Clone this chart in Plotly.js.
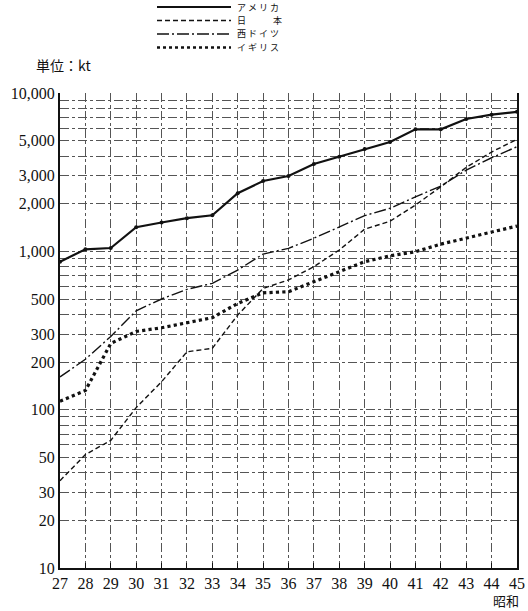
<!DOCTYPE html>
<html>
<head>
<meta charset="utf-8">
<script src="https://cdn.plot.ly/plotly-3.0.1.min.js"></script>
<style>html,body{margin:0;padding:0;background:#fff;}#chart{width:528px;height:611px;}</style>
</head>
<body>
<div id="chart"></div>
<script>
// 昭和 years
var years = [27,28,29,30,31,32,33,34,35,36,37,38,39,40,41,42,43,44,45];
// values in kt
var america = [860,1030,1050,1420,1520,1620,1690,2330,2780,2990,3560,3960,4430,4900,5900,5900,6850,7300,7600];
var japan   = [35.6,52,64,103,150,232,244,396,583,660,800,1020,1380,1550,1960,2560,3390,4240,5100];
var wgermany= [161,208,290,421,500,575,628,762,961,1045,1210,1430,1680,1870,2210,2580,3260,3900,4580];
var britain = [113,132,262,312,329,354,381,469,547,556,643,743,860,937,994,1110,1210,1330,1445];

var seriesNames = ['アメリカ','日本','西ドイツ','イギリス'];
var legendLabels = ['ア メ リ カ','日　　　本','西 ド イ ツ','イ ギ リ ス'];

var yTickVals = [10,20,30,40,50,60,70,80,90,100,200,300,400,500,600,700,800,900,1000,2000,3000,4000,5000,6000,7000,8000,9000,10000];
var yLabelMap = {10:'10',20:'20',30:'30',50:'50',100:'100',200:'200',300:'300',500:'500',1000:'1,000',2000:'2,000',3000:'3,000',5000:'5,000',10000:'10,000'};
var yTickText = yTickVals.map(function(v){ return yLabelMap[v] || ''; });
var xTickText = years.map(String);

var serif = 'Liberation Serif';
var jp = 'Noto Sans CJK JP';

var styles = [
  {color:'#111', width:2.2, dash:'solid'},
  {color:'#111', width:1.4, dash:'5px,3px'},
  {color:'#111', width:1.4, dash:'12px,3px,2px,3px'},
  {color:'#111', width:3.2, dash:'dot'}
];
var dataSets = [america, japan, wgermany, britain];

var traces = dataSets.map(function(d,i){
  var t = {x: years, y: d, type:'scatter', mode: i===0 ? 'lines+markers' : 'lines',
    name: seriesNames[i], line: styles[i], showlegend:false, hoverinfo:'x+y'};
  if (i===0) t.marker = {size:4, color:'#111'};
  return t;
});

// custom legend (paper coords)
var L = 60, R = 517, T = 93, B = 568;
function px(x){ return (x-L)/(R-L); }
function py(y){ return (B-y)/(B-T); }
var legendRows = [7, 20.5, 34, 47.5];
var shapes = [], annotations = [];
legendLabels.forEach(function(lbl,i){
  var ry = legendRows[i];
  shapes.push({type:'line', xref:'paper', yref:'paper', x0:px(157), x1:px(231), y0:py(ry), y1:py(ry),
    line:{color:styles[i].color, width: i===0?1.8:(i===3?2.6:1.3), dash:styles[i].dash}});
  annotations.push({xref:'paper', yref:'paper', x:px(236), y:py(ry), xanchor:'left', yanchor:'middle',
    text: lbl, showarrow:false, borderpad:0, font:{family:jp, size:9, color:'#111'}});
});
annotations.push({xref:'paper', yref:'paper', x:px(34), y:py(65), xanchor:'left', yanchor:'middle',
  text:'単位：kt', showarrow:false, font:{family:jp, size:14, color:'#111'}});
annotations.push({xref:'paper', yref:'paper', x:px(521), y:py(600), xanchor:'right', yanchor:'middle',
  text:'昭和', showarrow:false, font:{family:jp, size:13, color:'#111'}});

var layout = {
  width:528, height:611,
  margin:{l:60, r:11, t:93, b:43, pad:0},
  paper_bgcolor:'#fff', plot_bgcolor:'#fff',
  font:{family:serif, color:'#111'},
  showlegend:false,
  xaxis:{
    range:[27,45], tickvals: years, ticktext: xTickText,
    showgrid:true, gridcolor:'#555', gridwidth:1, griddash:'dashdot',
    ticks:'inside', ticklen:5, tickcolor:'#111',
    showline:true, linecolor:'#111', linewidth:2,
    zeroline:false,
    tickfont:{family:serif, size:16, color:'#111'}
  },
  yaxis:{
    type:'log', range:[1,4], tickvals: yTickVals, ticktext: yTickText,
    showgrid:true, gridcolor:'#555', gridwidth:1, griddash:'dashdot',
    ticks:'', showline:true, linecolor:'#111', linewidth:2, mirror:true,
    zeroline:false,
    tickfont:{family:serif, size:16, color:'#111'}
  },
  shapes: shapes,
  annotations: annotations
};

Plotly.newPlot('chart', traces, layout, {displayModeBar:false, staticPlot:true});
</script>
</body>
</html>
